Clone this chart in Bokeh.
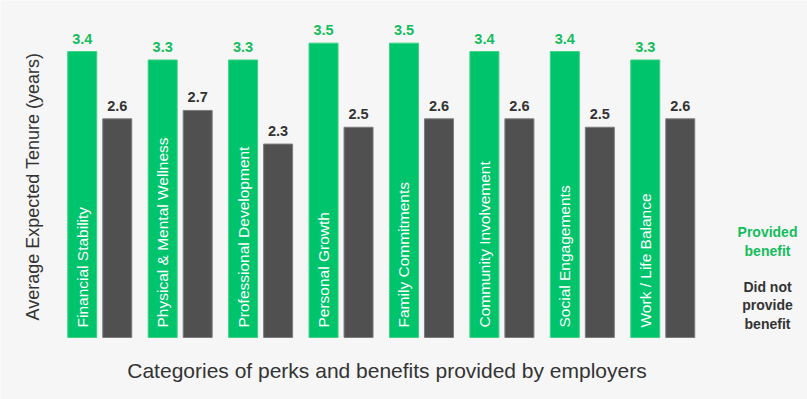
import math
import numpy as np
from bokeh.plotting import figure
from bokeh.models import ColumnDataSource, Label
from bokeh.core.properties import value
from bokeh.embed import file_html
from bokeh.resources import INLINE

# ---- data ----
categories = ["Financial Stability", "Physical & Mental Wellness", "Professional Development",
              "Personal Growth", "Family Commitments", "Community Involvement",
              "Social Engagements", "Work / Life  Balance"]
provided = [3.4, 3.3, 3.3, 3.5, 3.5, 3.4, 3.4, 3.3]
not_provided = [2.6, 2.7, 2.3, 2.5, 2.6, 2.6, 2.5, 2.6]
legend_provided = "Provided\nbenefit"
legend_not = "Did not\nprovide\nbenefit"
y_title = "Average Expected Tenure (years)"
x_title = "Categories of perks and benefits provided by employers"

GREEN = "#00c46b"
GREEN_TXT = "#13bd5c"
GRAY = "#505050"
DARK_TXT = "#333333"
BG = "#f6f6f6"
FONT = "Liberation Sans"

W, H = 807, 399
# pixel scales (group spacing and px per year)
PX_X = 80.43
PX_Y = 84.1
X0 = 99.25   # pixel of first group centre
Y0 = 337.0   # pixel of bar baseline
OFF = 17.5 / PX_X
BW = 29 / PX_X
LAB_GAP = 13 / PX_Y

idx = np.arange(len(categories))
prov_arr = np.array(provided)
notp_arr = np.array(not_provided)
src = ColumnDataSource(dict(
    xg=idx - OFF, xd=idx + OFF,
    prov=provided, notp=not_provided,
    prov_lab=prov_arr + LAB_GAP, notp_lab=notp_arr + LAB_GAP,
    prov_s=[f"{v:.1f}" for v in provided],
    notp_s=[f"{v:.1f}" for v in not_provided],
    cat=categories,
    base=[0.0] * len(categories),
))

def dx(px):
    return (px - X0) / PX_X

def dy(py):
    return (Y0 - py) / PX_Y

p = figure(width=W, height=H, output_backend="svg", toolbar_location=None,
           x_range=(dx(0), dx(W)), y_range=(dy(H), dy(0)),
           x_axis_type=None, y_axis_type=None, min_border=0,
           background_fill_color=BG, border_fill_color=BG, outline_line_color=None)
p.grid.visible = False

p.vbar(x="xg", top="prov", bottom="base", width=BW, source=src,
       fill_color=GREEN, line_color="#3fd286", line_width=1)
p.vbar(x="xd", top="notp", bottom="base", width=BW, source=src,
       fill_color=GRAY, line_color="#7c7c7c", line_width=1)

p.text(x="xg", y="prov_lab", text="prov_s", source=src,
       text_align="center", text_baseline="alphabetic",
       text_font=value(FONT), text_font_size="14.5px", text_font_style="bold",
       text_color=GREEN_TXT)
p.text(x="xd", y="notp_lab", text="notp_s", source=src,
       text_align="center", text_baseline="alphabetic",
       text_font=value(FONT), text_font_size="14.5px", text_font_style="bold",
       text_color=DARK_TXT)

p.text(x="xg", y=10 / PX_Y, text="cat", source=src, angle=math.pi / 2,
       text_align="left", text_baseline="middle",
       text_font=value(FONT), text_font_size="15.5px", text_color="white")

p.add_layout(Label(x=dx(32), y=dy(186), text=y_title,
                   angle=math.pi / 2, text_align="center", text_baseline="middle",
                   text_font=FONT, text_font_size="18px", text_color=DARK_TXT))
p.add_layout(Label(x=dx(386.5), y=dy(370), text=x_title,
                   text_align="center", text_baseline="middle",
                   text_font=FONT, text_font_size="21px", text_color=DARK_TXT))
p.add_layout(Label(x=dx(767), y=dy(241), text=legend_provided,
                   text_align="center", text_baseline="middle", text_line_height=1.15,
                   text_font=FONT, text_font_size="14px", text_font_style="bold",
                   text_color=GREEN_TXT))
p.add_layout(Label(x=dx(767), y=dy(305), text=legend_not,
                   text_align="center", text_baseline="middle", text_line_height=1.15,
                   text_font=FONT, text_font_size="14px", text_font_style="bold",
                   text_color=DARK_TXT))

open("out.html", "w").write(file_html(p, INLINE))
